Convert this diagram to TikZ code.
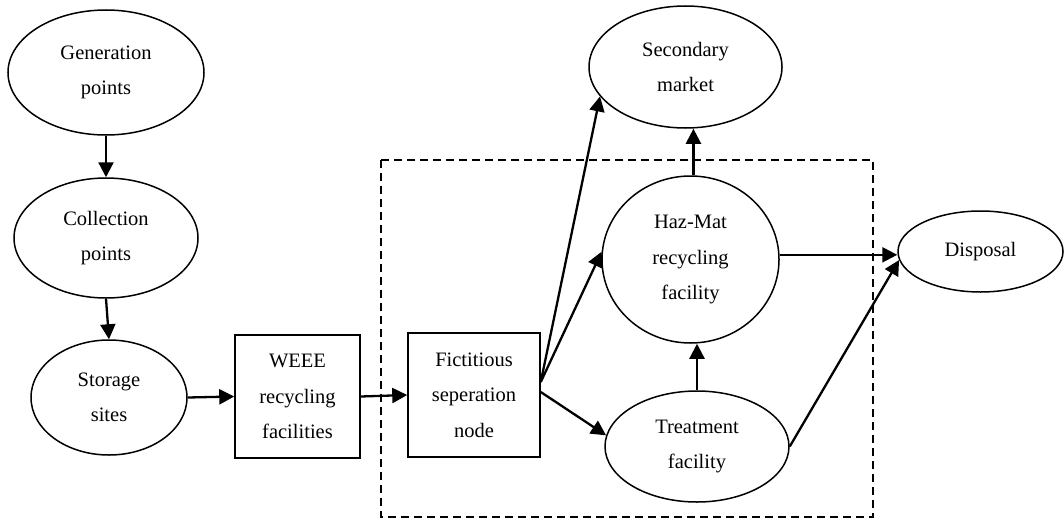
\documentclass[tikz,border=0pt]{standalone}
\usepackage{fontspec}
\setmainfont{Liberation Serif}
\usepackage{tikz}
\usetikzlibrary{arrows.meta, shapes.geometric}
\usetikzlibrary{positioning}

\begin{document}
\begin{tikzpicture}[x=1pt, y=-1pt,
		every node/.style={font=\fontsize{20.5}{35.5}\selectfont, align=center, inner sep=0pt},
		oval/.style={ellipse, draw, line width=1.5pt},
		facbox/.style={rectangle, draw, line width=1.5pt},
		flow/.style={-{Triangle[length=15pt, width=15pt]}, line width=2.3pt}]
			\useasboundingbox (0,0) rectangle (1064,519);
			
			\draw[line width=1.7pt, dash pattern=on 8pt off 5pt] (381,160) rectangle (873,517);
			
			\node[oval, minimum width=196pt, minimum height=125pt] (gen) at (106,72.5) {Generation\\points};
			\node[oval, minimum width=184pt, minimum height=120pt] (coll) at (106,238) {Collection\\points};
			\node[oval, minimum width=156pt, minimum height=115pt] (stor) at (109,397.5) {Storage\\sites};
			
			\node[facbox, minimum width=125pt, minimum height=123pt] (weee) at (297.5,396.5) {WEEE\\recycling\\facilities};
			\node[facbox, minimum width=132pt, minimum height=124pt] (fict) at (474,395) {Fictitious\\seperation\\node};
			
			\node[oval, minimum width=193pt, minimum height=122pt] (sec) at (685.5,67) {Secondary\\market};
			\node[oval, minimum width=177pt, minimum height=167pt] (haz) at (690.5,259.5) {Haz-Mat\\recycling\\facility};
			\node[oval, minimum width=184pt, minimum height=111pt] (treat) at (697,446.5) {Treatment\\facility};
			\node[oval, minimum width=165pt, minimum height=81pt] (disp) at (980.5,251.5) {Disposal};
			
			\coordinate (split up) at ([yshift=13pt]fict.east);
			\coordinate (split low) at ([yshift=3pt]fict.east);
			
			\draw[flow] (gen.south) -- (coll.north);
			\draw[flow] (coll.south) -- (stor.north);
			\draw[flow] (stor.east) -- (weee.west);
			\draw[flow] (weee.east) -- (fict.west);
			
			\draw[flow] (split up) -- (sec.199);
			\draw[flow] (split up) -- (haz.175);
			\draw[flow] (split low) -- (treat.173);
			
			\draw[flow] (haz.88) -- (haz.88 |- sec.south);
			\draw[flow] (treat.north) -- (treat.north |- haz.south);
			\draw[flow] (haz.3) -- (haz.3 -| disp.west);
			\draw[flow] (treat.east) -- (disp.186);
		\end{tikzpicture}
\end{document}
